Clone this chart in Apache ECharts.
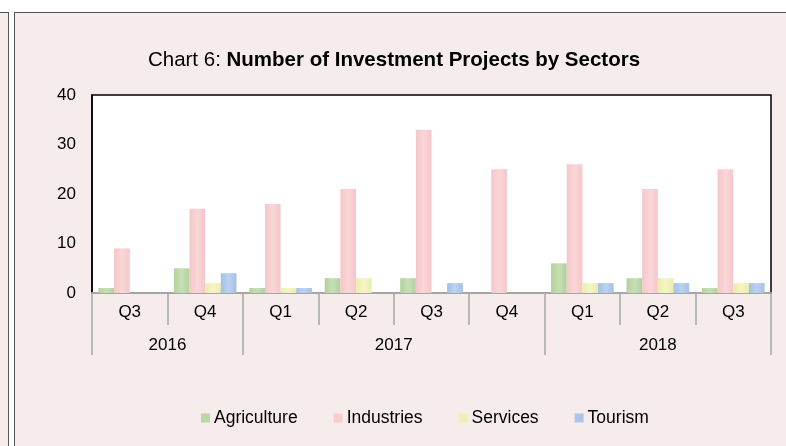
<!DOCTYPE html>
<html>
<head>
<meta charset="utf-8">
<script src="https://cdn.jsdelivr.net/npm/echarts@6/dist/echarts.min.js"></script>
<style>
  html, body { margin:0; padding:0; background:#ffffff; width:786px; height:446px; overflow:hidden; }
  #leftPanel { position:absolute; left:0; top:12px; width:8px; height:434px; background:#f6ecec; border-top:1px solid #555; border-right:1px solid #555; }
  #mainPanel { position:absolute; left:14px; top:12px; width:772px; height:434px; background:#f6ecec; border-top:1px solid #555; border-left:1px solid #555; }
  #chart { position:absolute; left:0; top:0; width:786px; height:446px; }
</style>
</head>
<body>
<div id="leftPanel"></div>
<div id="mainPanel"></div>
<div id="chart"></div>
<script>
// ---- data ----
const quarters = ['Q3','Q4','Q1','Q2','Q3','Q4','Q1','Q2','Q3'];
const years = ['2016','2017','2018'];
const yearSpans = [2, 4, 3];            // number of quarters in each year group
const seriesNames = ['Agriculture','Industries','Services','Tourism'];
const agriculture = [1, 5, 1, 3, 3, 0, 6, 3, 1];
const industries  = [9, 17, 18, 21, 33, 25, 26, 21, 25];
const services    = [0, 2, 1, 3, 0, 0, 2, 3, 2];
const tourism     = [0, 4, 1, 0, 2, 0, 2, 2, 2];
const yTicks = [0, 10, 20, 30, 40];

// ---- derived year-axis positions ----
const yearBounds = [0];
yearSpans.forEach((s, i) => yearBounds.push(yearBounds[i] + s));
const yearCenters = years.map((y, i) => (yearBounds[i] + yearBounds[i + 1]) / 2);

const FONT = '"Liberation Sans", Arial, sans-serif';
function grad(edge, mid) {
  return new echarts.graphic.LinearGradient(0, 0, 1, 0, [
    {offset: 0, color: edge}, {offset: 0.5, color: mid}, {offset: 1, color: edge}
  ]);
}
const palette = [
  grad('#b3d09d', '#c6e0b4'),
  grad('#f5c6c9', '#fad6d8'),
  grad('#ececad', '#f5f5c4'),
  grad('#a3c0e4', '#bcd3ef')
];
const legendColors = ['#b9d6a5', '#f7cdd0', '#efefb4', '#a9c6ea'];
const seriesData = [agriculture, industries, services, tourism];

const chart = echarts.init(document.getElementById('chart'), null, {renderer: 'canvas'});
chart.setOption({
  backgroundColor: 'transparent',
  animation: false,
  textStyle: { fontFamily: FONT },
  title: {
    text: '{n|Chart 6: }{b|Number of Investment Projects by Sectors}',
    left: 389, top: 45, textAlign: 'center',
    textStyle: {
      fontWeight: 'normal',
      rich: {
        n: { fontFamily: FONT, fontSize: 20.5, fontWeight: 'normal', color: '#000' },
        b: { fontFamily: FONT, fontSize: 20.5, fontWeight: 'bold', color: '#000' }
      }
    }
  },
  legend: {
    data: seriesNames.map((n, i) => ({ name: n, itemStyle: { color: legendColors[i] } })),
    left: 196, top: 404,
    icon: 'rect', itemWidth: 9, itemHeight: 9, itemGap: 36,
    textStyle: { fontFamily: FONT, fontSize: 17.5, color: '#000', padding: [0, 0, 0, -1] }
  },
  grid: {
    left: 92, right: 15, top: 95, bottom: 153,
    show: true, backgroundColor: '#ffffff', borderColor: '#000', borderWidth: 1.5
  },
  xAxis: [
    {
      type: 'category', data: quarters, position: 'bottom',
      axisLine: { show: true, lineStyle: { color: '#a6a6a6', width: 2 } },
      axisTick: { show: true, length: 32, interval: 0, lineStyle: { color: '#a6a6a6', width: 1.5 } },
      axisLabel: { interval: 0, margin: 11, fontSize: 17, color: '#000', fontFamily: FONT }
    },
    {
      type: 'value', min: 0, max: yearBounds[yearBounds.length - 1], position: 'bottom',
      axisLine: { show: false },
      splitLine: { show: false },
      axisTick: { show: true, length: 62, customValues: yearBounds, lineStyle: { color: '#a6a6a6', width: 1.5 } },
      axisLabel: {
        margin: 44, fontSize: 17, color: '#000', fontFamily: FONT,
        customValues: yearCenters,
        formatter: v => { const i = yearCenters.indexOf(v); return i >= 0 ? years[i] : ''; }
      }
    }
  ],
  yAxis: {
    type: 'value', min: yTicks[0], max: yTicks[yTicks.length - 1], interval: 10,
    axisLine: { show: true, lineStyle: { color: '#000', width: 1.5 } },
    axisTick: { show: false },
    splitLine: { show: false },
    axisLabel: { margin: 16, fontSize: 17, color: '#000', fontFamily: FONT }
  },
  series: seriesNames.map((n, i) => ({
    name: n, type: 'bar', xAxisIndex: 0, data: seriesData[i],
    barGap: '0%', barCategoryGap: '17%',
    itemStyle: { color: palette[i] }
  }))
});
</script>
</body>
</html>
